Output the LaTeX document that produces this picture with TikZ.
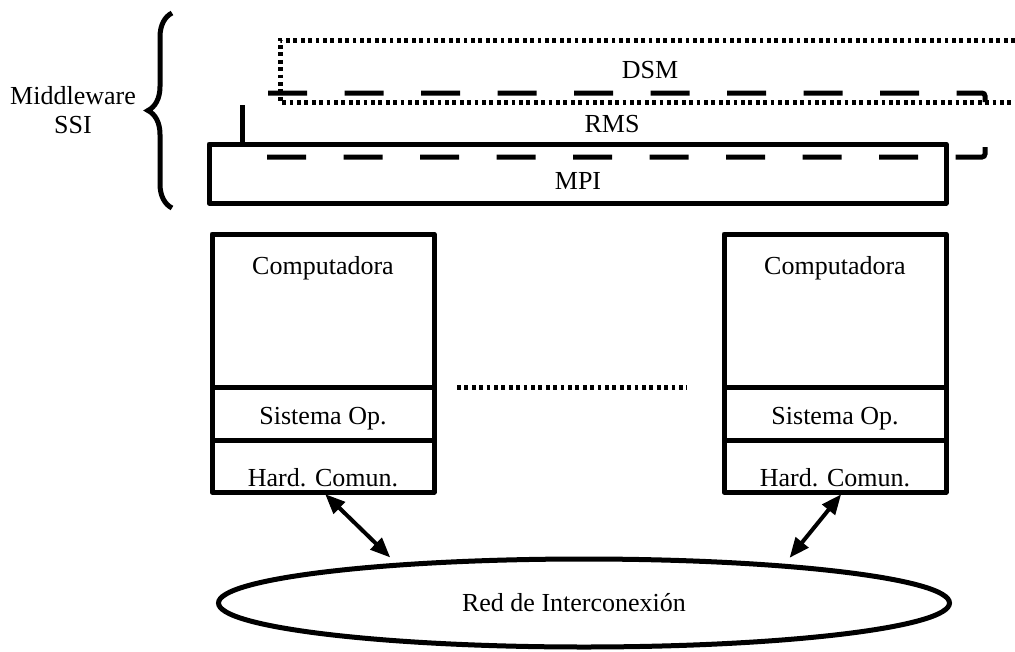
\documentclass[tikz,border=0pt]{standalone}
\usepackage{fontspec}
\setmainfont{Liberation Serif}
\usetikzlibrary{positioning, shapes.geometric, arrows.meta, decorations.pathreplacing}

\begin{document}
\begin{tikzpicture}[x=1pt, y=-1pt,
	capa/.style={draw, line width=5pt, line join=round, minimum width=222pt, outer sep=0pt, inner sep=0pt},
	punteado/.style={line width=5pt, dash pattern=on 3.8pt off 3.6pt},
	rayado/.style={line width=5pt, dash pattern=on 39pt off 37.5pt, rounded corners=3pt},
	flecha/.style={{Triangle[length=20pt,width=16pt]}-{Triangle[length=20pt,width=16pt]}, line width=4pt}]
	\useasboundingbox (0,0) rectangle (1015,651);
	\fontsize{26}{29}\selectfont

	% Middleware SSI
	\draw[line width=5pt, decorate, decoration={brace, amplitude=24pt}] (172,208) -- (172,13);
	\node[align=center] (mw) at (73,110) {Middleware\\SSI};

	% DSM
	\draw[punteado] (1015,40) -- (280,40) -- (280,102) -- (1015,102);
	\draw[rayado] (268,93) -- (985,93) -- (985,102);
	\node (dsm) at (650,70) {DSM};

	% RMS
	\draw[line width=5pt] (242,105) -- (242,144);
	\node (rms) at (612,124) {RMS};

	% MPI
	\node[capa, minimum width=737pt, minimum height=59pt] (mpi) at (577.5,173.5) {};
	\draw[rayado] (267,157) -- (985,157) -- (985,147);
	\node (tmpi) at (578,181) {MPI};

	% Computadora izquierda
	\node[capa, minimum height=153pt] (compA) at (323,310.5) {};
	\node[capa, minimum height=53pt, below=0pt of compA] (soA) {};
	\node[capa, minimum height=52pt, below=0pt of soA] (hwA) {};
	\node (tcA) at ([yshift=-34pt]compA.north) {Computadora};
	\node (tsA) at ([yshift=-5pt]soA.center) {Sistema Op.};
	\node (thA) at ([yshift=-12pt]hwA.center) {Hard. Comun.};

	% Computadora derecha
	\node[capa, minimum height=153pt] (compB) at (835,310.5) {};
	\node[capa, minimum height=53pt, below=0pt of compB] (soB) {};
	\node[capa, minimum height=52pt, below=0pt of soB] (hwB) {};
	\node (tcB) at ([yshift=-34pt]compB.north) {Computadora};
	\node (tsB) at ([yshift=-5pt]soB.center) {Sistema Op.};
	\node (thB) at ([yshift=-12pt]hwB.center) {Hard. Comun.};

	\draw[punteado, shorten <=23pt, shorten >=37pt] (soA.north east) -- (soB.north west);	% puntos suspensivos

	% Red
	\node[draw, ellipse, line width=5pt, minimum width=731pt, minimum height=88pt, inner sep=0pt] (red) at (584,603) {};
	\node (tred) at ([xshift=-10pt]red.center) {Red de Interconexión};

	\draw[flecha, shorten <=3pt, shorten >=8pt] (hwA.south) -- (red.168.4);
	\draw[flecha, shorten <=3pt, shorten >=8pt] ([xshift=8pt]hwB.south) -- (red.11.6);
\end{tikzpicture}
\end{document}
